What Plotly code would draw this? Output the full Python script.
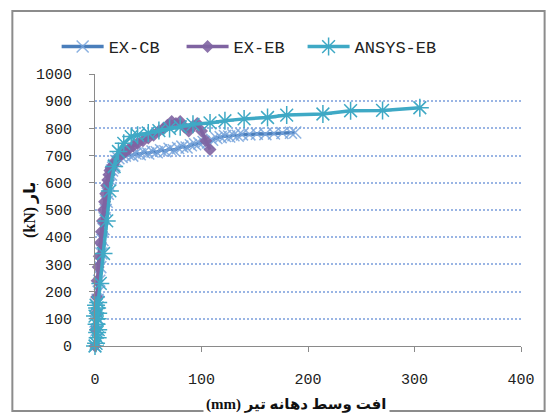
import plotly.graph_objects as go

# ---------------- data ----------------
cb_x = [0, -1, 1.5, 0.5, 2, 1, 3, 2.5, 3.5, 4, 5, 6, 7, 8, 9, 10, 11, 12, 13, 14, 15, 16, 17, 18,
        20, 22, 25, 28, 31, 35, 38, 42, 46, 50, 54, 58, 62, 66, 70, 74, 78, 82, 86, 90, 94, 98,
        102, 106, 110, 114, 118, 122, 126, 130, 134, 138, 145, 152, 160, 168, 176, 184, 188]
cb_y = [0, 30, 60, 90, 120, 150, 100, 170, 200, 240, 290, 340, 390, 430, 470, 500, 530, 560, 590, 610, 630, 645, 655, 665,
        680, 690, 695, 700, 705, 700, 708, 705, 712, 708, 715, 712, 720, 716, 725, 720, 728, 733, 730, 738, 742, 745,
        750, 748, 758, 765, 768, 772, 770, 775, 773, 778, 778, 780, 779, 781, 783, 784, 785]

eb_x = [0, 0.5, 1, 1.5, 2, 3, 4, 5, 6, 7, 8, 9, 10, 11, 12, 13, 14, 15, 17, 19, 22, 25, 28, 32, 36,
        40, 45, 50, 55, 60, 64, 68, 72, 76, 80, 84, 88, 92, 96, 100, 104, 108]
eb_y = [0, 60, 120, 180, 240, 290, 330, 380, 420, 460, 500, 530, 560, 590, 610, 630, 645, 655, 665, 680, 695, 705, 712, 725, 735,
        745, 755, 765, 775, 790, 800, 812, 825, 818, 825, 805, 790, 808, 818, 790, 755, 722]

an_x = [0, 1, -2, 2.5, -1, 2, 3, -1.5, 1.5, -2, 2.5, 0, 3, -1, 2, 1, 3, 5, 8, 11, 14, 18, 22, 27, 34, 40, 50, 60, 70, 80,
        92, 108, 122, 140, 162, 180, 214, 240, 270, 305]
an_y = [0, 10, 20, 30, 40, 50, 60, 70, 80, 90, 100, 110, 120, 130, 140, 150, 160, 230, 340, 460, 570, 660, 715, 745, 770, 775,
        783, 792, 800, 806, 815, 820, 828, 835, 840, 849, 853, 865, 866, 876]

series_names = ["EX-CB", "EX-EB", "ANSYS-EB"]
x_ticks = [0, 100, 200, 300, 400]
y_ticks = [0, 100, 200, 300, 400, 500, 600, 700, 800, 900, 1000]

# ---------------- figure ----------------
L, R, T, B = 95, 19, 74, 68
W, H = 547, 414
pw, ph = W - L - R, H - T - B

def px2x(p):
    return (p - L) / pw

def py2y(p):
    return (H - B - p) / ph

fig = go.Figure()
fig.add_trace(go.Scatter(
    x=cb_x, y=cb_y, name=series_names[0], mode="lines+markers", legend="legend",
    line=dict(color="#4A7EBB", width=3.5),
    marker=dict(symbol="x-thin", size=12, line=dict(color="rgba(120,165,220,0.85)", width=1.5)),
    cliponaxis=False))
fig.add_trace(go.Scatter(
    x=eb_x, y=eb_y, name=series_names[1], mode="lines+markers", legend="legend2",
    line=dict(color="#7F63A1", width=3.5),
    marker=dict(symbol="diamond", size=10, color="rgba(128,100,162,0.9)"),
    cliponaxis=False))
fig.add_trace(go.Scatter(
    x=an_x, y=an_y, name=series_names[2], mode="lines+markers", legend="legend3",
    line=dict(color="#3FA9C5", width=3.5),
    marker=dict(symbol="asterisk-open", size=15, line=dict(color="rgba(75,172,198,0.85)", width=1.5)),
    cliponaxis=False))

tick_font = dict(family="Liberation Mono, DejaVu Sans Mono, monospace", size=15, color="#222")

fig.update_xaxes(range=[0, 400], tickvals=x_ticks, showgrid=False, zeroline=False,
                 showline=True, linecolor="#8a8a8a", linewidth=1,
                 ticks="outside", ticklen=5, tickcolor="#8a8a8a",
                 tickfont=tick_font, ticklabelstandoff=14)
fig.update_yaxes(range=[0, 1000], tickvals=y_ticks, showgrid=True, gridcolor="#9AB5E4",
                 griddash="2px,2px", gridwidth=2, zeroline=False,
                 showline=True, linecolor="#8a8a8a", linewidth=1,
                 ticks="outside", ticklen=5, tickcolor="#8a8a8a",
                 tickfont=tick_font, ticklabelstandoff=14)

legend_font = dict(family="Liberation Mono, DejaVu Sans Mono, monospace", size=17, color="#222")

def leg(xpx):
    return dict(orientation="h", x=px2x(xpx), xanchor="left", y=py2y(47), yanchor="middle",
                font=legend_font, bgcolor="rgba(0,0,0,0)", borderwidth=0, itemwidth=42)

fig.update_layout(
    width=W, height=H,
    margin=dict(l=L, r=R, t=T, b=B, pad=0),
    paper_bgcolor="white", plot_bgcolor="white",
    showlegend=True,
    legend=leg(56), legend2=leg(183), legend3=leg(306),
    shapes=[dict(type="rect", xref="paper", yref="paper",
                 x0=px2x(11), x1=px2x(552), y0=py2y(411), y1=py2y(11),
                 line=dict(color="#8c8c8c", width=2), fillcolor="rgba(0,0,0,0)", layer="below")],
    annotations=[
        dict(text="<b>(mm) افت وسط دهانه تیر</b>", xref="paper", yref="paper",
             x=px2x(300), y=py2y(404), xanchor="center", yanchor="middle", showarrow=False,
             font=dict(family="Liberation Serif, DejaVu Sans", size=15, color="#111"),
             bgcolor="white", borderpad=2),
        dict(text="<b>(kN) بار</b>", xref="paper", yref="paper",
             x=px2x(29), y=py2y(210), xanchor="center", yanchor="middle", showarrow=False,
             textangle=-90,
             font=dict(family="Liberation Serif, DejaVu Sans", size=16, color="#111")),
    ],
)

fig.write_html("out.html")
